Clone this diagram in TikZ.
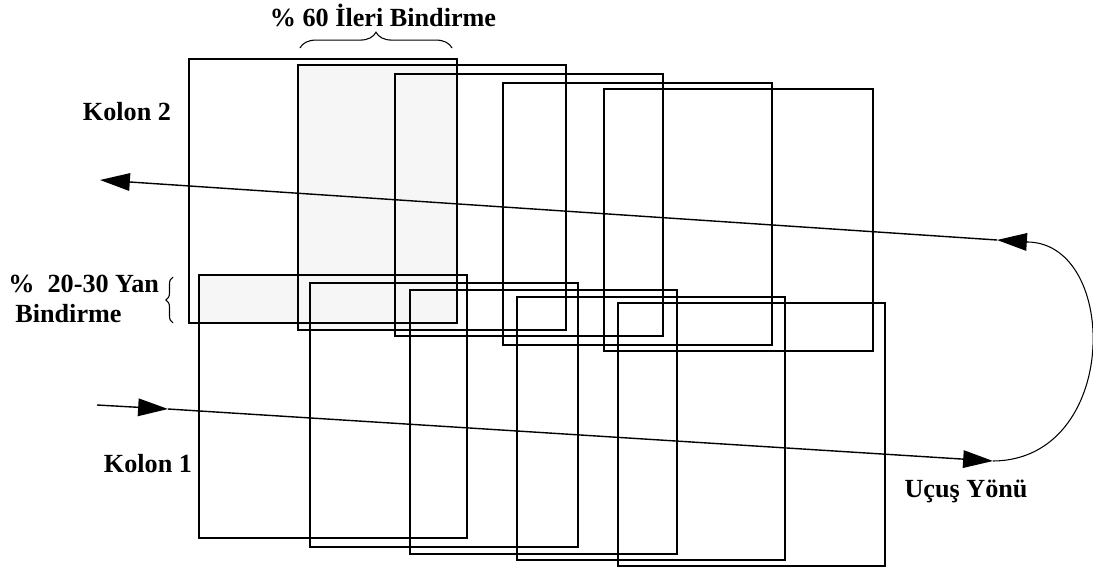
\documentclass[tikz,border=0pt]{standalone}
\usepackage{fontspec}
\setmainfont{Liberation Serif}
\usetikzlibrary{arrows.meta,decorations.pathreplacing}
\definecolor{overlapgray}{RGB}{246,246,246}
\tikzset{
  photo/.style={line width=0.9pt},
  flightline/.style={line width=0.8pt,-{Triangle[length=17pt,width=10pt]}},
  boldtext/.style={font=\bfseries\fontsize{14.9}{17}\selectfont,inner sep=0pt},
  bracket/.style={line width=0.6pt,decorate},
}
\begin{document}
\begin{tikzpicture}[x=0.02cm,y=-0.02cm]
\useasboundingbox (0,0) rectangle (1093,568);
% overlap areas
\fill[overlapgray] (298,65) rectangle (457,330);
\fill[overlapgray] (199,275) rectangle (457,323);
% Kolon 2 frames
\draw[photo] (189,59) rectangle (457,323);
\draw[photo] (298,65) rectangle (566,330);
\draw[photo] (395,74) rectangle (663,336);
\draw[photo] (503,83) rectangle (772,345);
\draw[photo] (604,89) rectangle (873,351);
% Kolon 1 frames
\draw[photo] (199,275) rectangle (467,538);
\draw[photo] (310,283) rectangle (578,547);
\draw[photo] (410,290) rectangle (677,554);
\draw[photo] (517,297) rectangle (785,560);
\draw[photo] (618,303) rectangle (885,566);
% flight path
\coordinate (start) at (97,405);
\coordinate (in1) at (168,409);
\coordinate (turn1) at (993,461);
\coordinate (turn2) at (1028,242);
\coordinate (back1) at (997,240);
\coordinate (out2) at (100,180);
\draw[flightline] (start) -- (in1);
\draw[flightline] (in1) -- (turn1);
\draw[line width=0.6pt] (turn1) .. controls (1120,460) and (1120,244) .. (turn2);
\draw[flightline] (turn2) -- (back1);
\draw[flightline] (back1) -- (out2);
% braces
\draw[bracket,decoration={brace,amplitude=9pt}] (300,48) -- (452,48);
\draw[bracket,decoration={brace,amplitude=4pt}] (173,323) -- (173,277);
% labels
\node[boldtext,anchor=base] (forward) at (383,27) {\% 60 İleri Bindirme};
\node[boldtext,anchor=base] (col2) at (127,120) {Kolon 2};
\node[boldtext,anchor=north west,align=left] (side) at (8,275) {\%\ \ 20-30 Yan\\\hspace{4pt}Bindirme};
\node[boldtext,anchor=base] (col1) at (148,472) {Kolon 1};
\node[boldtext,anchor=base] (dir) at (966,497) {Uçuş Yönü};
\end{tikzpicture}
\end{document}
